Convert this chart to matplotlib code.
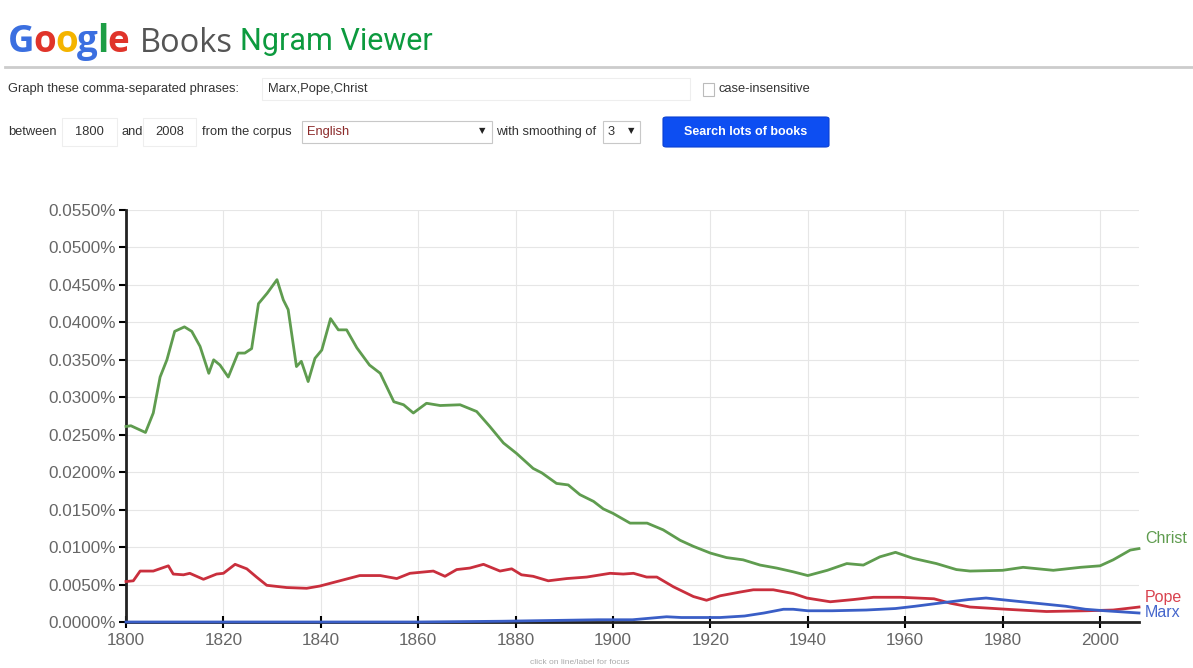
import matplotlib
matplotlib.use("Agg")
import matplotlib.pyplot as plt
from matplotlib.patches import Rectangle, FancyBboxPatch
from matplotlib.ticker import FuncFormatter, MultipleLocator

# values (percent)
christ_years = [1800, 1801, 1804, 1805.6, 1807, 1808.4, 1810, 1812, 1813.5, 1815.2, 1817, 1818, 1819.3,
                1821, 1823, 1824.4, 1825.8, 1827.2, 1829, 1831, 1832.3, 1833.3, 1835, 1836, 1837.4,
                1838.8, 1840.2, 1842, 1843.6, 1845.3, 1847.4, 1850, 1852.2, 1855, 1857, 1859, 1861.7,
                1864.5, 1868.6, 1872, 1874.7, 1877.5, 1880.2, 1883.6, 1885.4, 1888.4, 1890.8, 1893.2,
                1896, 1898, 1900, 1903.5, 1907, 1910.3, 1913.8, 1916.5, 1920, 1923.3, 1926.7, 1930.2,
                1933.6, 1937, 1940, 1944, 1948, 1951.4, 1954.8, 1958, 1961.6, 1966.4, 1970.5, 1973.3,
                1980, 1984.2, 1990.4, 1996, 2000, 2002.7, 2006.2, 2008]
christ = [0.0261, 0.0262, 0.0253, 0.0279, 0.0327, 0.0350, 0.0388, 0.0394, 0.0388, 0.0368, 0.0332, 0.0350,
          0.0343, 0.0327, 0.0359, 0.0359, 0.0365, 0.0425, 0.0439, 0.0457, 0.0430, 0.0417, 0.0341, 0.0348,
          0.0321, 0.0352, 0.0363, 0.0405, 0.0390, 0.0390, 0.0366, 0.0343, 0.0332, 0.0294, 0.0290, 0.0279,
          0.0292, 0.0289, 0.0290, 0.0281, 0.0261, 0.0239, 0.0225, 0.0205, 0.0199, 0.0185, 0.0183, 0.0170,
          0.0161, 0.0151, 0.0145, 0.0132, 0.0132, 0.0123, 0.0109, 0.0101, 0.0092, 0.0086, 0.0083, 0.0076,
          0.0072, 0.0067, 0.0062, 0.0069, 0.0078, 0.0076, 0.0087, 0.0093, 0.0085, 0.0078, 0.0070, 0.0068,
          0.0069, 0.0073, 0.0069, 0.0073, 0.0075, 0.0083, 0.0096, 0.0098]

pope_years = [1800, 1801.5, 1802.9, 1805.6, 1808.7, 1809.7, 1811.8, 1813.1, 1815.9, 1818.6, 1820, 1822.4,
              1824.8, 1826.8, 1828.9, 1833, 1837.1, 1839.8, 1843.9, 1848, 1852.2, 1855.6, 1858.3, 1863.1,
              1865.5, 1867.9, 1870.6, 1873.4, 1876.8, 1879.2, 1881.2, 1883.6, 1886.7, 1890.5, 1894.6,
              1899.4, 1902.1, 1904.2, 1906.9, 1909, 1912.4, 1916.5, 1919.2, 1922, 1926.1, 1928.8, 1932.9,
              1937, 1939.8, 1944.6, 1949.4, 1953.5, 1959, 1965.9, 1969.3, 1973.3, 1980.8, 1989, 1997.2,
              2002.7, 2005.4, 2008]
pope = [0.0054, 0.0055, 0.0068, 0.0068, 0.0075, 0.0064, 0.0063, 0.0065, 0.0057, 0.0064, 0.0065, 0.0077,
        0.0071, 0.0060, 0.0049, 0.0046, 0.0045, 0.0048, 0.0055, 0.0062, 0.0062, 0.0058, 0.0065, 0.0068,
        0.0061, 0.0070, 0.0072, 0.0077, 0.0068, 0.0071, 0.0063, 0.0061, 0.0055, 0.0058, 0.0060,
        0.0065, 0.0064, 0.0065, 0.0060, 0.0060, 0.0047, 0.0034, 0.0029, 0.0035, 0.0040, 0.0043, 0.0043,
        0.0038, 0.0032, 0.0027, 0.0030, 0.0033, 0.0033, 0.0031, 0.0025, 0.0020, 0.0017, 0.0014, 0.0015,
        0.0016, 0.0018, 0.0020]

marx_years = [1800, 1860, 1877, 1897, 1904, 1911, 1914, 1922, 1927, 1931, 1935, 1937, 1940, 1945, 1952,
              1958, 1962, 1968, 1973, 1976.6, 1981, 1987, 1993, 1997, 2001, 2008]
marx = [0.0000, 0.0000, 0.0001, 0.0003, 0.0003, 0.0007, 0.0006, 0.0006, 0.0008, 0.0012, 0.0017, 0.0017,
        0.0015, 0.0015, 0.0016, 0.0018, 0.0021, 0.0026, 0.0030, 0.0032, 0.0029, 0.0025, 0.0021, 0.0017,
        0.0015, 0.0012]

W, H = 1193, 668
fig = plt.figure(figsize=(W / 100, H / 100), dpi=100)
plt.rcParams['font.family'] = ['Liberation Sans', 'DejaVu Sans']


def fx(x):
    return x / W


def fy(y):
    return 1 - y / H


# header
rend = fig.canvas.get_renderer()
x = 8
for ch, col in zip("Google", ['#3b6fe0', '#e0342a', '#f4b400', '#3b6fe0', '#1e9e45', '#e0342a']):
    t = fig.text(fx(x), fy(52), ch, color=col, fontsize=26.5, family='Open Sans', weight='bold')
    x = t.get_window_extent(rend).x1 - 1
fig.text(fx(140), fy(52), "Books", color='#555555', fontsize=23.5, family='Open Sans')
fig.text(fx(240), fy(50), "Ngram Viewer", color='#0c9a3e', fontsize=22, family='Roboto')
fig.add_artist(plt.Line2D([fx(5), fx(1193)], [fy(67), fy(67)], color='#cccccc', lw=2))

small = dict(fontsize=9.3, color='#333333', va='center')
fig.text(fx(8), fy(89), "Graph these comma-separated phrases:", **small)
fig.add_artist(Rectangle((fx(262), fy(100)), fx(690 - 262), 22 / H, fill=False, ec='#eeeeee', lw=0.8))
fig.text(fx(268), fy(89), "Marx,Pope,Christ", **small)
fig.add_artist(Rectangle((fx(703), fy(96)), fx(11), 13 / H, fill=False, ec='#bbbbbb', lw=0.8))
fig.text(fx(718), fy(89), "case-insensitive", **small)

fig.text(fx(8), fy(132), "between", **small)
fig.add_artist(Rectangle((fx(62), fy(146)), fx(55), 28 / H, fill=False, ec='#eeeeee', lw=0.8))
fig.text(fx(75), fy(132), "1800", **small)
fig.text(fx(122), fy(132), "and", **small)
fig.add_artist(Rectangle((fx(143), fy(146)), fx(53), 28 / H, fill=False, ec='#eeeeee', lw=0.8))
fig.text(fx(155), fy(132), "2008", **small)
fig.text(fx(202), fy(132), "from the corpus", **small)
fig.add_artist(Rectangle((fx(302), fy(143)), fx(190), 22 / H, fill=False, ec='#c8c8c8', lw=0.8))
fig.text(fx(307), fy(132), "English", fontsize=9.3, color='#8b2a2a', va='center')
fig.text(fx(479), fy(131), "▼", fontsize=6, color='#222222', va='center', family='DejaVu Sans')
fig.text(fx(496), fy(132), "with smoothing of", **small)
fig.add_artist(Rectangle((fx(603), fy(143)), fx(37), 22 / H, fill=False, ec='#c8c8c8', lw=0.8))
fig.text(fx(608), fy(132), "3", **small)
fig.text(fx(628), fy(131), "▼", fontsize=6, color='#222222', va='center', family='DejaVu Sans')
fig.add_artist(FancyBboxPatch((fx(663), fy(147)), fx(166), 30 / H, boxstyle="round,pad=0,rounding_size=0.003",
                              fc='#0d4ef2', ec='#0a3fd0', lw=0.8))
fig.text(fx(746), fy(132), "Search lots of books", fontsize=9, color='white', weight='bold',
         ha='center', va='center')

# chart
ax = fig.add_axes([fx(126), fy(622), fx(1139 - 126), 412 / H])
ax.plot(christ_years, christ, color='#5f9c4f', lw=2, clip_on=False, zorder=4)
ax.plot(pope_years, pope, color='#c92f3d', lw=2, clip_on=False, zorder=4)
ax.plot(marx_years, marx, color='#3a5ec6', lw=2, clip_on=False, zorder=5)

ax.set_xlim(1800, 2008)
ax.set_ylim(0, 0.055)
ax.xaxis.set_major_locator(MultipleLocator(20))
ax.yaxis.set_major_locator(MultipleLocator(0.005))
ax.yaxis.set_major_formatter(FuncFormatter(lambda v, p: f"{v:.4f}%"))
ax.grid(True, color='#e6e6e6', lw=0.8)
ax.set_axisbelow(True)
for s in ['top', 'right']:
    ax.spines[s].set_visible(False)
for s in ['left', 'bottom']:
    ax.spines[s].set_linewidth(2)
    ax.spines[s].set_color('#222222')
ax.tick_params(axis='y', direction='out', length=5, width=1.5, labelsize=12.3, labelcolor='#666666', pad=2)
ax.tick_params(axis='x', direction='inout', length=8, width=1.5, labelsize=12.3, labelcolor='#666666', pad=4)

ax.text(2009.2, christ[-1] + 0.0013, "Christ", color='#5f9c4f', fontsize=11.5, va='center', clip_on=False)
ax.text(2009.2, 0.0033, "Pope", color='#d9434f', fontsize=11.5, va='center', clip_on=False)
ax.text(2009.2, 0.0013, "Marx", color='#4566cc', fontsize=11.5, va='center', clip_on=False)

fig.text(fx(580), fy(664), "click on line/label for focus", fontsize=6, color='#aaaaaa', ha='center')

fig.savefig("out.png", dpi=100)
